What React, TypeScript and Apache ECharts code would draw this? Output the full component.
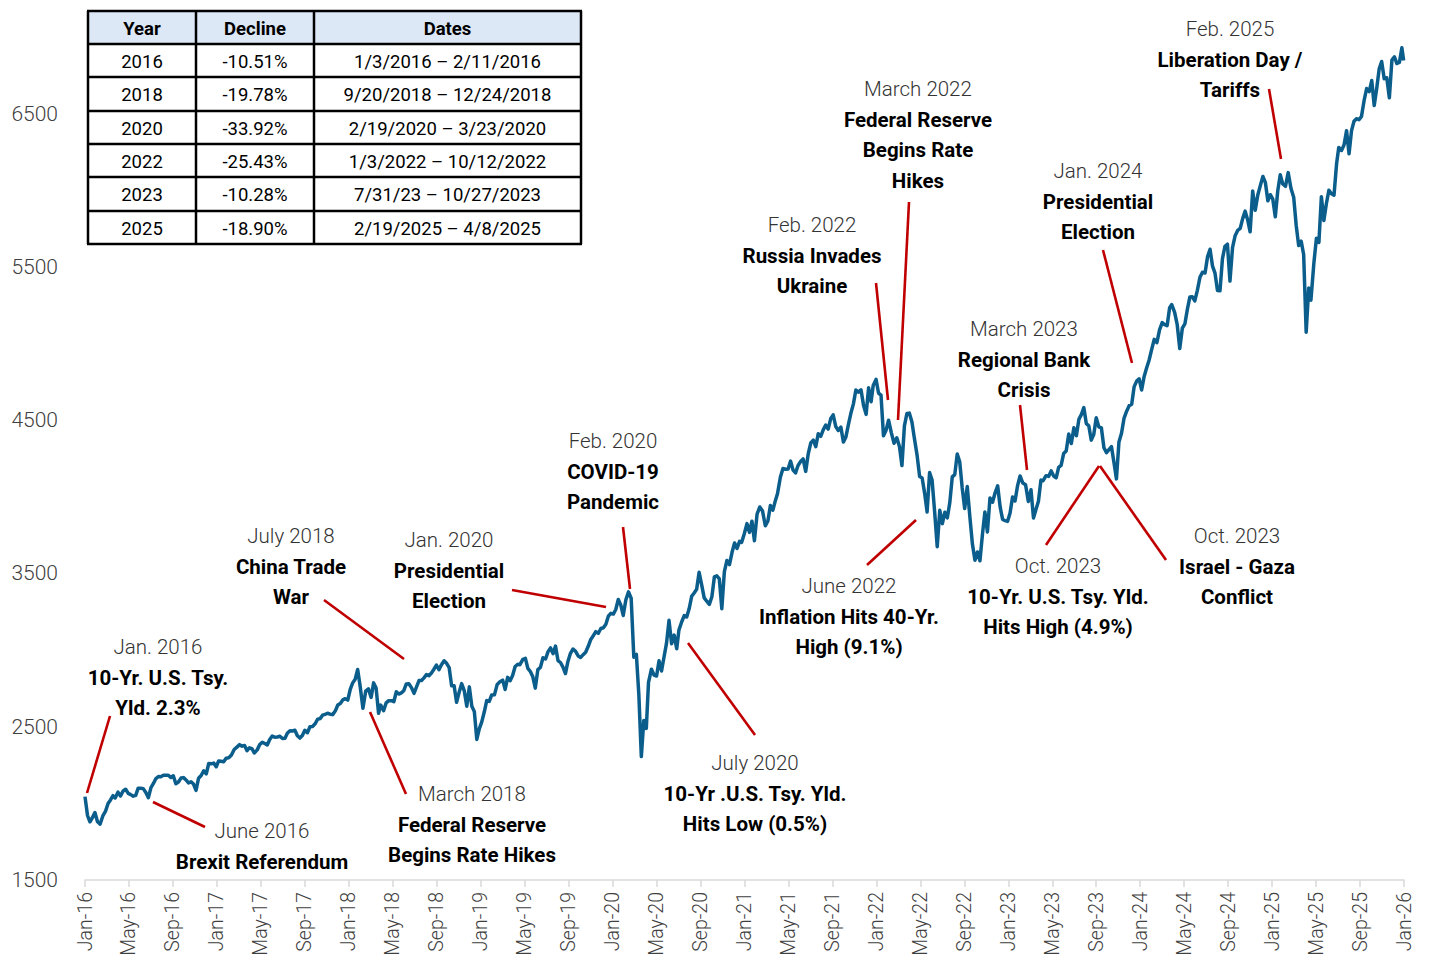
import React, { useEffect, useRef } from "react";
import * as echarts from "echarts";

// Weekly S&P 500 closes, one list per calendar year: [MM-DD, close]
const closes2016: [string, number][] = [
  ["01-01", 2044], ["01-08", 1922], ["01-15", 1880], ["01-22", 1907], ["01-29", 1940],
  ["02-05", 1880], ["02-12", 1865], ["02-19", 1918], ["02-26", 1948], ["03-04", 1999],
  ["03-11", 2022], ["03-18", 2050], ["03-24", 2035], ["04-01", 2073], ["04-08", 2048],
  ["04-15", 2081], ["04-22", 2092], ["04-29", 2065], ["05-06", 2057], ["05-13", 2047],
  ["05-20", 2052], ["05-27", 2099], ["06-03", 2099], ["06-10", 2096], ["06-17", 2071],
  ["06-24", 2037], ["07-01", 2103], ["07-08", 2130], ["07-15", 2162], ["07-22", 2175],
  ["07-29", 2174], ["08-05", 2183], ["08-12", 2184], ["08-19", 2184], ["08-26", 2169],
  ["09-02", 2180], ["09-09", 2128], ["09-16", 2139], ["09-23", 2165], ["09-30", 2168],
  ["10-07", 2153], ["10-14", 2133], ["10-21", 2141], ["10-28", 2126], ["11-04", 2085],
  ["11-11", 2164], ["11-18", 2182], ["11-25", 2213], ["12-02", 2192], ["12-09", 2260],
  ["12-16", 2258], ["12-23", 2263], ["12-30", 2239],
];
const closes2017: [string, number][] = [
  ["01-06", 2277], ["01-13", 2275], ["01-20", 2271], ["01-27", 2295], ["02-03", 2297],
  ["02-10", 2316], ["02-17", 2351], ["02-24", 2367], ["03-03", 2383], ["03-10", 2373],
  ["03-17", 2378], ["03-24", 2344], ["03-31", 2363], ["04-07", 2355], ["04-13", 2329],
  ["04-21", 2349], ["04-28", 2384], ["05-05", 2399], ["05-12", 2390], ["05-19", 2381],
  ["05-26", 2416], ["06-02", 2439], ["06-09", 2432], ["06-16", 2433], ["06-23", 2438],
  ["06-30", 2423], ["07-07", 2425], ["07-14", 2459], ["07-21", 2473], ["07-28", 2472],
  ["08-04", 2477], ["08-11", 2441], ["08-18", 2426], ["08-25", 2443], ["09-01", 2477],
  ["09-08", 2461], ["09-15", 2500], ["09-22", 2502], ["09-29", 2519], ["10-06", 2549],
  ["10-13", 2553], ["10-20", 2575], ["10-27", 2581], ["11-03", 2588], ["11-10", 2582],
  ["11-17", 2579], ["11-24", 2602], ["12-01", 2642], ["12-08", 2652], ["12-15", 2675],
  ["12-22", 2683], ["12-29", 2674],
];
const closes2018: [string, number][] = [
  ["01-05", 2743], ["01-12", 2786], ["01-19", 2810], ["01-26", 2873], ["02-02", 2762],
  ["02-09", 2620], ["02-16", 2732], ["02-23", 2747], ["03-02", 2691], ["03-09", 2786],
  ["03-16", 2752], ["03-23", 2588], ["03-29", 2641], ["04-06", 2604], ["04-13", 2656],
  ["04-20", 2670], ["04-27", 2670], ["05-04", 2663], ["05-11", 2728], ["05-18", 2713],
  ["05-25", 2721], ["06-01", 2735], ["06-08", 2779], ["06-15", 2780], ["06-22", 2755],
  ["06-29", 2718], ["07-06", 2760], ["07-13", 2801], ["07-20", 2802], ["07-27", 2819],
  ["08-03", 2840], ["08-10", 2833], ["08-17", 2850], ["08-24", 2875], ["08-31", 2902],
  ["09-07", 2872], ["09-14", 2905], ["09-21", 2930], ["09-28", 2914], ["10-05", 2886],
  ["10-12", 2767], ["10-19", 2768], ["10-26", 2659], ["11-02", 2723], ["11-09", 2781],
  ["11-16", 2736], ["11-23", 2633], ["11-30", 2760], ["12-07", 2633], ["12-14", 2600],
  ["12-21", 2417], ["12-28", 2486],
];
const closes2019: [string, number][] = [
  ["01-04", 2532], ["01-11", 2596], ["01-18", 2671], ["01-25", 2665], ["02-01", 2707],
  ["02-08", 2708], ["02-15", 2776], ["02-22", 2793], ["03-01", 2804], ["03-08", 2743],
  ["03-15", 2822], ["03-22", 2800], ["03-29", 2834], ["04-05", 2893], ["04-12", 2907],
  ["04-18", 2905], ["04-26", 2940], ["05-03", 2946], ["05-10", 2881], ["05-17", 2860],
  ["05-24", 2826], ["05-31", 2752], ["06-07", 2873], ["06-14", 2887], ["06-21", 2950],
  ["06-28", 2942], ["07-05", 2990], ["07-12", 3014], ["07-19", 2977], ["07-26", 3026],
  ["08-02", 2932], ["08-09", 2919], ["08-16", 2889], ["08-23", 2847], ["08-30", 2926],
  ["09-06", 2979], ["09-13", 3007], ["09-20", 2992], ["09-27", 2962], ["10-04", 2952],
  ["10-11", 2970], ["10-18", 2986], ["10-25", 3023], ["11-01", 3067], ["11-08", 3093],
  ["11-15", 3120], ["11-22", 3110], ["11-29", 3141], ["12-06", 3146], ["12-13", 3169],
  ["12-20", 3221], ["12-27", 3240],
];
const closes2020: [string, number][] = [
  ["01-03", 3235], ["01-10", 3265], ["01-17", 3330], ["01-24", 3295], ["01-31", 3226],
  ["02-07", 3328], ["02-14", 3380], ["02-21", 3338], ["02-28", 2954], ["03-06", 2972],
  ["03-13", 2711], ["03-20", 2305], ["03-27", 2541], ["04-03", 2489], ["04-09", 2790],
  ["04-17", 2875], ["04-24", 2837], ["05-01", 2831], ["05-08", 2930], ["05-15", 2864],
  ["05-22", 2955], ["05-29", 3044], ["06-05", 3194], ["06-12", 3041], ["06-19", 3098],
  ["06-26", 3009], ["07-02", 3130], ["07-10", 3185], ["07-17", 3225], ["07-24", 3216],
  ["07-31", 3271], ["08-07", 3351], ["08-14", 3373], ["08-21", 3397], ["08-28", 3508],
  ["09-04", 3427], ["09-11", 3341], ["09-18", 3319], ["09-25", 3298], ["10-02", 3348],
  ["10-09", 3477], ["10-16", 3484], ["10-23", 3465], ["10-30", 3270], ["11-06", 3510],
  ["11-13", 3585], ["11-20", 3558], ["11-27", 3638], ["12-04", 3699], ["12-11", 3663],
  ["12-18", 3709], ["12-24", 3703], ["12-31", 3756],
];
const closes2021: [string, number][] = [
  ["01-08", 3825], ["01-15", 3768], ["01-22", 3841], ["01-29", 3714], ["02-05", 3887],
  ["02-12", 3934], ["02-19", 3907], ["02-26", 3811], ["03-05", 3842], ["03-12", 3943],
  ["03-19", 3913], ["03-26", 3975], ["04-01", 4020], ["04-09", 4129], ["04-16", 4185],
  ["04-23", 4180], ["04-30", 4181], ["05-07", 4233], ["05-14", 4174], ["05-21", 4156],
  ["05-28", 4204], ["06-04", 4230], ["06-11", 4247], ["06-18", 4166], ["06-25", 4281],
  ["07-02", 4352], ["07-09", 4370], ["07-16", 4327], ["07-23", 4412], ["07-30", 4395],
  ["08-06", 4437], ["08-13", 4468], ["08-20", 4442], ["08-27", 4509], ["09-03", 4535],
  ["09-10", 4459], ["09-17", 4433], ["09-24", 4455], ["10-01", 4357], ["10-08", 4391],
  ["10-15", 4471], ["10-22", 4545], ["10-29", 4605], ["11-05", 4697], ["11-12", 4683],
  ["11-19", 4698], ["11-26", 4595], ["12-03", 4538], ["12-10", 4712], ["12-17", 4620],
  ["12-23", 4726], ["12-31", 4766],
];
const closes2022: [string, number][] = [
  ["01-07", 4677], ["01-14", 4663], ["01-21", 4398], ["01-28", 4432], ["02-04", 4500],
  ["02-11", 4419], ["02-18", 4349], ["02-25", 4385], ["03-04", 4329], ["03-11", 4204],
  ["03-18", 4463], ["03-25", 4543], ["04-01", 4546], ["04-08", 4488], ["04-14", 4392],
  ["04-22", 4272], ["04-29", 4132], ["05-06", 4123], ["05-13", 4024], ["05-20", 3901],
  ["05-27", 4158], ["06-03", 4109], ["06-10", 3901], ["06-17", 3675], ["06-24", 3912],
  ["07-01", 3825], ["07-08", 3899], ["07-15", 3863], ["07-22", 3962], ["07-29", 4130],
  ["08-05", 4145], ["08-12", 4280], ["08-19", 4228], ["08-26", 4058], ["09-02", 3924],
  ["09-09", 4067], ["09-16", 3873], ["09-23", 3693], ["09-30", 3586], ["10-07", 3640],
  ["10-14", 3583], ["10-21", 3753], ["10-28", 3901], ["11-04", 3771], ["11-11", 3993],
  ["11-18", 3965], ["11-25", 4026], ["12-02", 4072], ["12-09", 3934], ["12-16", 3852],
  ["12-23", 3845], ["12-30", 3840],
];
const closes2023: [string, number][] = [
  ["01-06", 3895], ["01-13", 3999], ["01-20", 3973], ["01-27", 4071], ["02-03", 4136],
  ["02-10", 4090], ["02-17", 4079], ["02-24", 3970], ["03-03", 4046], ["03-10", 3862],
  ["03-17", 3917], ["03-24", 3971], ["03-31", 4109], ["04-06", 4105], ["04-14", 4138],
  ["04-21", 4133], ["04-28", 4169], ["05-05", 4136], ["05-12", 4124], ["05-19", 4192],
  ["05-26", 4205], ["06-02", 4282], ["06-09", 4299], ["06-16", 4410], ["06-23", 4348],
  ["06-30", 4450], ["07-07", 4399], ["07-14", 4505], ["07-21", 4536], ["07-28", 4582],
  ["08-04", 4478], ["08-11", 4464], ["08-18", 4370], ["08-25", 4406], ["09-01", 4516],
  ["09-08", 4457], ["09-15", 4450], ["09-22", 4320], ["09-29", 4288], ["10-06", 4308],
  ["10-13", 4327], ["10-20", 4224], ["10-27", 4117], ["11-03", 4358], ["11-10", 4415],
  ["11-17", 4514], ["11-24", 4559], ["12-01", 4595], ["12-08", 4604], ["12-15", 4719],
  ["12-22", 4755], ["12-29", 4770],
];
const closes2024: [string, number][] = [
  ["01-05", 4697], ["01-12", 4784], ["01-19", 4840], ["01-26", 4891], ["02-02", 4959],
  ["02-09", 5027], ["02-16", 5006], ["02-23", 5089], ["03-01", 5137], ["03-08", 5124],
  ["03-15", 5117], ["03-22", 5234], ["03-28", 5254], ["04-05", 5204], ["04-12", 5123],
  ["04-19", 4967], ["04-26", 5100], ["05-03", 5128], ["05-10", 5223], ["05-17", 5303],
  ["05-24", 5305], ["05-31", 5278], ["06-07", 5347], ["06-14", 5432], ["06-21", 5465],
  ["06-28", 5460], ["07-05", 5567], ["07-12", 5615], ["07-19", 5505], ["07-26", 5459],
  ["08-02", 5346], ["08-09", 5344], ["08-16", 5554], ["08-23", 5634], ["08-30", 5648],
  ["09-06", 5408], ["09-13", 5626], ["09-20", 5703], ["09-27", 5738], ["10-04", 5751],
  ["10-11", 5815], ["10-18", 5864], ["10-25", 5808], ["11-01", 5729], ["11-08", 5995],
  ["11-15", 5870], ["11-22", 5969], ["11-29", 6032], ["12-06", 6090], ["12-13", 6051],
  ["12-20", 5931], ["12-27", 5971],
];
const closes2025: [string, number][] = [
  ["01-03", 5942], ["01-10", 5827], ["01-17", 5997], ["01-24", 6101], ["01-31", 6041],
  ["02-07", 6026], ["02-14", 6115], ["02-21", 6013], ["02-28", 5955], ["03-07", 5770],
  ["03-14", 5639], ["03-21", 5668], ["03-28", 5581], ["04-04", 5074], ["04-11", 5363],
  ["04-17", 5283], ["04-25", 5525], ["05-02", 5687], ["05-09", 5660], ["05-16", 5958],
  ["05-23", 5803], ["05-30", 5912], ["06-06", 6000], ["06-13", 5977], ["06-20", 5968],
  ["06-27", 6173], ["07-03", 6279], ["07-11", 6260], ["07-18", 6297], ["07-25", 6389],
  ["08-01", 6238], ["08-08", 6389], ["08-15", 6450], ["08-22", 6467], ["08-29", 6460],
  ["09-05", 6482], ["09-12", 6584], ["09-19", 6664], ["09-26", 6644], ["10-03", 6716],
  ["10-10", 6553], ["10-17", 6664], ["10-24", 6792], ["10-31", 6840], ["11-07", 6728],
  ["11-14", 6734], ["11-21", 6603], ["11-28", 6849], ["12-05", 6870], ["12-12", 6827],
  ["12-19", 6834], ["12-26", 6930], ["12-31", 6846],
];

const yearlyCloses: [number, [string, number][]][] = [
  [2016, closes2016], [2017, closes2017], [2018, closes2018], [2019, closes2019],
  [2020, closes2020], [2021, closes2021], [2022, closes2022], [2023, closes2023],
  [2024, closes2024], [2025, closes2025],
];

// Drawdown table
const tableHeader = ["Year", "Decline", "Dates"];
const tableYears = ["2016", "2018", "2020", "2022", "2023", "2025"];
const tableDeclines = ["-10.51%", "-19.78%", "-33.92%", "-25.43%", "-10.28%", "-18.90%"];
const tableDates = [
  "1/3/2016 \u2013 2/11/2016",
  "9/20/2018 \u2013 12/24/2018",
  "2/19/2020 \u2013 3/23/2020",
  "1/3/2022 \u2013 10/12/2022",
  "7/31/23 \u2013 10/27/2023",
  "2/19/2025 \u2013 4/8/2025",
];

// Event call-outs: first line is the date (light), the rest is the event (bold)
const eventTexts: string[][] = [
  ["Jan. 2016", "10-Yr. U.S. Tsy.", "Yld. 2.3%"],
  ["June 2016", "Brexit Referendum"],
  ["July 2018", "China Trade", "War"],
  ["March 2018", "Federal Reserve", "Begins Rate Hikes"],
  ["Jan. 2020", "Presidential", "Election"],
  ["Feb. 2020", "COVID-19", "Pandemic"],
  ["July 2020", "10-Yr .U.S. Tsy. Yld.", "Hits Low (0.5%)"],
  ["Feb. 2022", "Russia Invades", "Ukraine"],
  ["March 2022", "Federal Reserve", "Begins Rate", "Hikes"],
  ["June 2022", "Inflation Hits 40-Yr.", "High (9.1%)"],
  ["March 2023", "Regional Bank", "Crisis"],
  ["Jan. 2024", "Presidential", "Election"],
  ["Oct. 2023", "10-Yr. U.S. Tsy. Yld.", "Hits High (4.9%)"],
  ["Oct. 2023", "Israel - Gaza", "Conflict"],
  ["Feb. 2025", "Liberation Day /", "Tariffs"],
];

const MONTHS = ["Jan", "Feb", "Mar", "Apr", "May", "Jun", "Jul", "Aug", "Sep", "Oct", "Nov", "Dec"];

// Layout of call-outs (pixel positions of text block top line, leader lines)
const eventAnchors: [number, number][] = [
  [158, 647], [262, 831], [291, 536], [472, 794], [449, 540], [613, 441], [755, 763],
  [812, 225], [918, 89], [849, 586], [1024, 329], [1098, 171], [1058, 566], [1237, 536],
  [1230, 29],
];
const leaderLines: [number, number, number, number][] = [
  [110, 716, 87, 793], [153, 802, 205, 827], [324, 600, 404, 659], [370, 712, 406, 794],
  [512, 590, 606, 607], [623, 527, 630, 589], [688, 643, 755, 735], [876, 283, 888, 400],
  [909, 202, 898, 420], [867, 565, 916, 520], [1020, 405, 1027, 470], [1103, 250, 1132, 363],
  [1046, 545, 1099, 466], [1100, 466, 1166, 560], [1269, 89, 1281, 159],
];

function monthPosition(year: number, md: string): number {
  const [m, d] = md.split("-").map(Number);
  const daysInMonth = new Date(year, m, 0).getDate();
  return (year - 2016) * 12 + (m - 1) + (d - 1) / daysInMonth;
}

function monthLabel(v: number): string {
  const idx = Math.round(v);
  const year = 16 + Math.floor(idx / 12);
  return `${MONTHS[idx % 12]}-${year}`;
}

const FONT = "Roboto, 'Liberation Sans', sans-serif";

function buildTable(): any[] {
  const els: any[] = [];
  const colX = [88, 196, 314, 581];
  const rowY = [11, 44, 77, 111, 144, 177, 211, 244];
  els.push({
    type: "rect",
    shape: { x: colX[0], y: rowY[0], width: colX[3] - colX[0], height: rowY[1] - rowY[0] },
    style: { fill: "#dce8f6" },
  });
  rowY.forEach((y) => {
    els.push({
      type: "line",
      shape: { x1: colX[0] - 1, y1: y, x2: colX[3] + 1, y2: y },
      style: { stroke: "#000", lineWidth: 2.5 },
    });
  });
  colX.forEach((x) => {
    els.push({
      type: "line",
      shape: { x1: x, y1: rowY[0], x2: x, y2: rowY[rowY.length - 1] },
      style: { stroke: "#000", lineWidth: 2.5 },
    });
  });
  const rows = [tableHeader, ...tableYears.map((y, i) => [y, tableDeclines[i], tableDates[i]])];
  rows.forEach((row, r) => {
    const cy = (rowY[r] + rowY[r + 1]) / 2;
    row.forEach((txt, c) => {
      const cx = (colX[c] + colX[c + 1]) / 2;
      els.push({
        type: "text",
        style: {
          text: txt,
          x: cx,
          y: cy + 1,
          align: "center",
          verticalAlign: "middle",
          textAlign: "center",
          textVerticalAlign: "middle",
          font: `${r === 0 ? "bold " : ""}18.5px ${FONT}`,
          fill: "#000",
        },
      });
    });
  });
  return els;
}

function buildCallouts(): any[] {
  const els: any[] = [];
  leaderLines.forEach(([x1, y1, x2, y2]) => {
    els.push({
      type: "line",
      shape: { x1, y1, x2, y2 },
      style: { stroke: "#c00000", lineWidth: 2.6 },
    });
  });
  eventTexts.forEach((lines, i) => {
    const [cx, cy] = eventAnchors[i];
    lines.forEach((txt, j) => {
      els.push({
        type: "text",
        style: {
          text: txt,
          x: cx,
          y: cy + j * 30.5,
          align: "center",
          verticalAlign: "middle",
          textAlign: "center",
          textVerticalAlign: "middle",
          font: j === 0 ? `300 20.5px ${FONT}` : `bold 20.5px ${FONT}`,
          fill: j === 0 ? "#333333" : "#000000",
        },
      });
    });
  });
  return els;
}

export default function App() {
  const ref = useRef<HTMLDivElement>(null);

  useEffect(() => {
    if (!ref.current) return;
    const chart = echarts.init(ref.current, null, { renderer: "svg" });
    const points: [number, number][] = [];
    yearlyCloses.forEach(([year, list]) => {
      list.forEach(([md, v]) => points.push([monthPosition(year, md), v]));
    });

    chart.setOption({
      animation: false,
      backgroundColor: "#ffffff",
      grid: {
        left: 85,
        right: 25,
        top: 37,
        bottom: 80,
        containLabel: false,
        outerBoundsMode: "none",
      },
      xAxis: {
        type: "value",
        min: 0,
        max: 120,
        interval: 4,
        axisLine: { show: true, lineStyle: { color: "#d9d9d9", width: 1.5 } },
        axisTick: { show: true, length: 7, lineStyle: { color: "#d9d9d9", width: 1.5 } },
        splitLine: { show: false },
        axisLabel: {
          rotate: 90,
          margin: 12,
          formatter: (v: number) => monthLabel(v),
          fontFamily: FONT,
          fontWeight: 300,
          fontSize: 19.5,
          color: "#404040",
        },
      },
      yAxis: {
        type: "value",
        min: 1500,
        max: 7000,
        interval: 1000,
        axisLine: { show: false },
        axisTick: { show: false },
        splitLine: { show: false },
        axisLabel: {
          margin: 27,
          formatter: (v: number) => ((v - 1500) % 1000 === 0 ? String(v) : ""),
          fontFamily: FONT,
          fontWeight: 300,
          fontSize: 21,
          color: "#404040",
        },
      },
      series: [
        {
          type: "line",
          data: points,
          showSymbol: false,
          symbol: "none",
          lineStyle: { color: "#0b5e8c", width: 3.5, join: "round" },
          clip: true,
          z: 3,
        },
      ],
      graphic: [...buildTable(), ...buildCallouts()],
    });

    return () => chart.dispose();
  }, []);

  return (
    <div
      ref={ref}
      style={{ position: "absolute", left: 0, top: 0, width: 1429, height: 960, background: "#fff" }}
    />
  );
}
